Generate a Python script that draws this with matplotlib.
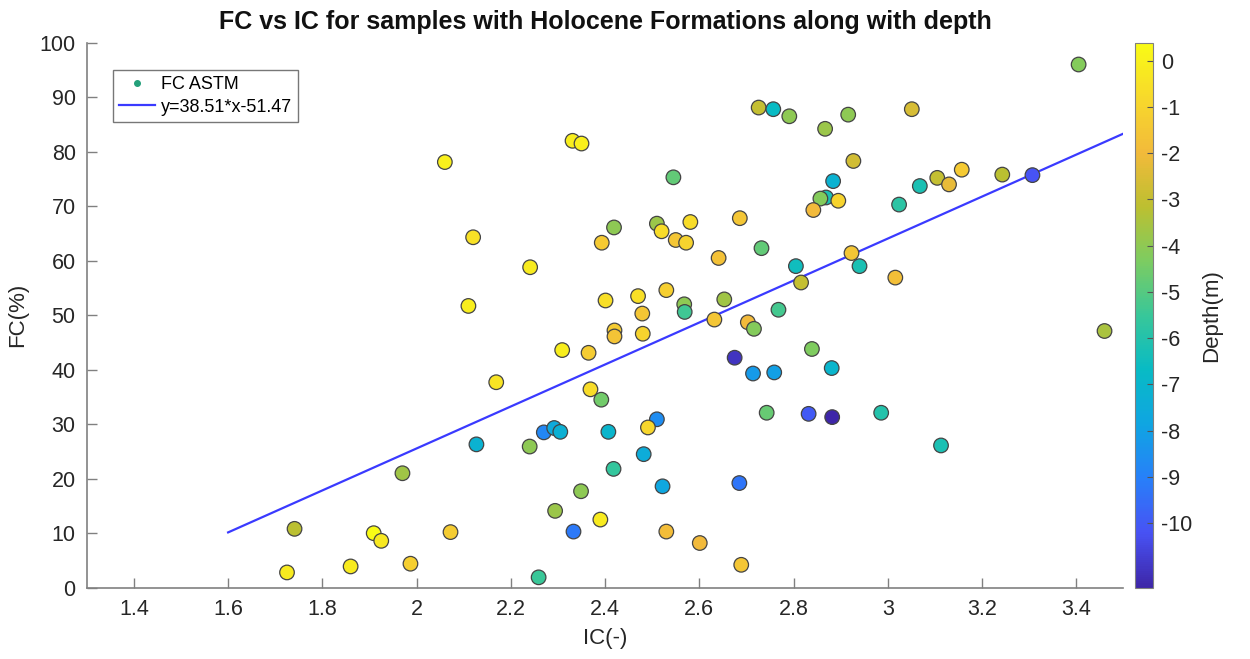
import numpy as np
import matplotlib.pyplot as plt
from matplotlib.colors import LinearSegmentedColormap

plt.rcParams['font.family'] = ['Liberation Sans', 'DejaVu Sans']
plt.rcParams['axes.unicode_minus'] = False

# IC, FC and sample depth for the Holocene samples
ic = [1.725, 1.741, 1.860, 1.909, 1.925, 1.970, 1.987, 2.072, 2.110, 2.127,
      2.169, 2.240, 2.259, 2.270, 2.292, 2.305, 2.294, 2.309, 2.333, 2.349,
      2.365, 2.369, 2.390, 2.392, 2.407, 2.418, 2.420, 2.420, 2.401, 2.060,
      2.120, 2.241, 2.331, 2.350, 2.393, 2.419, 3.405, 2.726, 2.757, 2.791,
      2.916, 2.867, 3.051, 2.927, 2.545, 2.884, 2.869, 2.857, 2.895, 2.842,
      3.157, 3.105, 3.130, 3.243, 3.307, 3.068, 3.024, 2.686, 2.581, 2.510,
      2.520, 2.550, 2.572, 2.732, 2.641, 2.805, 2.940, 2.923, 2.816, 3.016,
      2.470, 2.530, 2.568, 2.569, 2.653, 2.479, 2.632, 2.703, 2.716, 2.768,
      2.480, 2.839, 2.675, 2.714, 2.759, 2.881, 2.743, 2.832, 2.882, 2.986,
      2.510, 2.491, 2.482, 2.522, 2.685, 3.113, 3.460, 2.530, 2.601, 2.689]
fc = [2.8, 10.8, 3.9, 10.0, 8.6, 21.0, 4.4, 10.2, 51.7, 26.3,
      37.7, 25.9, 1.9, 28.5, 29.3, 28.6, 14.1, 43.6, 10.3, 17.7,
      43.1, 36.4, 12.5, 34.5, 28.6, 21.8, 47.2, 46.1, 52.7, 78.1,
      64.3, 58.8, 82.0, 81.5, 63.3, 66.1, 96.0, 88.1, 87.8, 86.5,
      86.8, 84.2, 87.8, 78.3, 75.3, 74.6, 71.6, 71.4, 71.0, 69.3,
      76.7, 75.2, 74.0, 75.8, 75.7, 73.7, 70.3, 67.8, 67.1, 66.8,
      65.4, 63.8, 63.3, 62.3, 60.5, 59.0, 59.0, 61.4, 56.0, 56.9,
      53.5, 54.6, 52.0, 50.6, 52.9, 50.3, 49.2, 48.7, 47.5, 51.0,
      46.6, 43.8, 42.2, 39.3, 39.5, 40.3, 32.1, 31.9, 31.3, 32.1,
      30.9, 29.4, 24.5, 18.6, 19.2, 26.1, 47.1, 10.3, 8.2, 4.2]
depth = [-0.2, -3.2, -0.2, 0.39, -0.3, -3.7, -1.2, -1.3, -0.1, -7.2,
         -0.4, -4.0, -5.5, -8.8, -7.6, -7.3, -3.8, -0.1, -9.2, -4.0,
         -1.3, -0.7, -0.2, -4.5, -7.0, -5.6, -1.3, -1.6, -0.6, 0.0,
         -0.5, -0.2, -0.1, 0.0, -1.4, -4.0, -4.2, -3.0, -6.7, -4.0,
         -4.0, -3.8, -2.6, -2.7, -4.8, -7.2, -6.2, -4.2, -1.0, -2.0,
         -1.4, -3.0, -2.2, -3.2, -10.2, -6.2, -5.8, -1.5, -0.7, -3.8,
         -0.7, -1.5, -1.0, -4.8, -1.7, -6.5, -6.2, -1.5, -3.0, -1.8,
         -0.6, -1.2, -4.0, -5.4, -3.7, -1.5, -1.5, -2.0, -4.2, -5.3,
         -1.0, -4.3, -11.0, -8.2, -8.0, -7.0, -4.7, -10.0, -11.4, -6.0,
         -8.6, -0.9, -7.5, -7.8, -9.3, -6.2, -3.5, -1.9, -2.0, -1.5]

slope = 38.51
intercept = -51.47
fit_x = [1.6, 3.5]

# parula-like colormap
parula = LinearSegmentedColormap.from_list('parula', [
    (0.2422, 0.1504, 0.6603),
    (0.2810, 0.3228, 0.9579),
    (0.1540, 0.5020, 0.9760),
    (0.0590, 0.6480, 0.8860),
    (0.0330, 0.7330, 0.7700),
    (0.2200, 0.7800, 0.6000),
    (0.4900, 0.8000, 0.3800),
    (0.7400, 0.7500, 0.1900),
    (0.9500, 0.7300, 0.2300),
    (0.9700, 0.8500, 0.1700),
    (0.9769, 0.9839, 0.0805),
])

fig = plt.figure(figsize=(12.5, 6.59), dpi=100)
ax = fig.add_axes([0.0694, 0.1082, 0.8293, 0.8270])

sc = ax.scatter(ic, fc, c=depth, cmap=parula, s=110, edgecolors='#444444',
                linewidths=0.9, zorder=3)
# legend handle for the samples
ax.plot([], [], '.', color='#23a07a', markersize=8, label='FC ASTM')
fx = np.array(fit_x)
ax.plot(fx, slope * fx + intercept, color='#3a3aff', lw=1.6, zorder=2,
        label=f'y={slope}*x{intercept}')

ax.set_xlim(1.3, 3.5)
ax.set_ylim(0, 100)
ax.set_xticks(np.arange(1.4, 3.41, 0.2))
ax.set_xticklabels(['1.4', '1.6', '1.8', '2', '2.2', '2.4', '2.6', '2.8', '3', '3.2', '3.4'])
ax.set_yticks(range(0, 101, 10))
for side in ['top', 'right']:
    ax.spines[side].set_visible(False)
for side in ['left', 'bottom']:
    ax.spines[side].set_color('#808080')
    ax.spines[side].set_linewidth(1.2)
ax.tick_params(direction='in', length=7, width=1.0, color='#808080',
               labelsize=15.5, labelcolor='#262626', pad=8)

ax.set_xlabel('IC(-)', fontsize=16, color='#262626', labelpad=6)
ax.set_ylabel('FC(%)', fontsize=16, color='#262626', labelpad=8)
ax.set_title('FC vs IC for samples with Holocene Formations along with depth',
             fontsize=18, fontweight='bold', color='#111111', pad=10)

leg = ax.legend(loc='upper left', bbox_to_anchor=(0.025, 0.95), fontsize=13,
                frameon=True, fancybox=False, edgecolor='#555555',
                handlelength=2.0, handletextpad=0.3, borderpad=0.35,
                labelspacing=0.3, borderaxespad=0)
leg.get_frame().set_linewidth(1.0)

cax = fig.add_axes([0.908, 0.1082, 0.0144, 0.8270])
cb = fig.colorbar(sc, cax=cax)
cb.set_ticks(range(-10, 1))
cb.outline.set_edgecolor('#808080')
cax.tick_params(direction='in', length=4, color='#555555', labelsize=15.5,
                labelcolor='#262626', pad=6)
cb.set_label('Depth(m)', fontsize=16, color='#262626', labelpad=6)

fig.savefig('out.png', dpi=100)
